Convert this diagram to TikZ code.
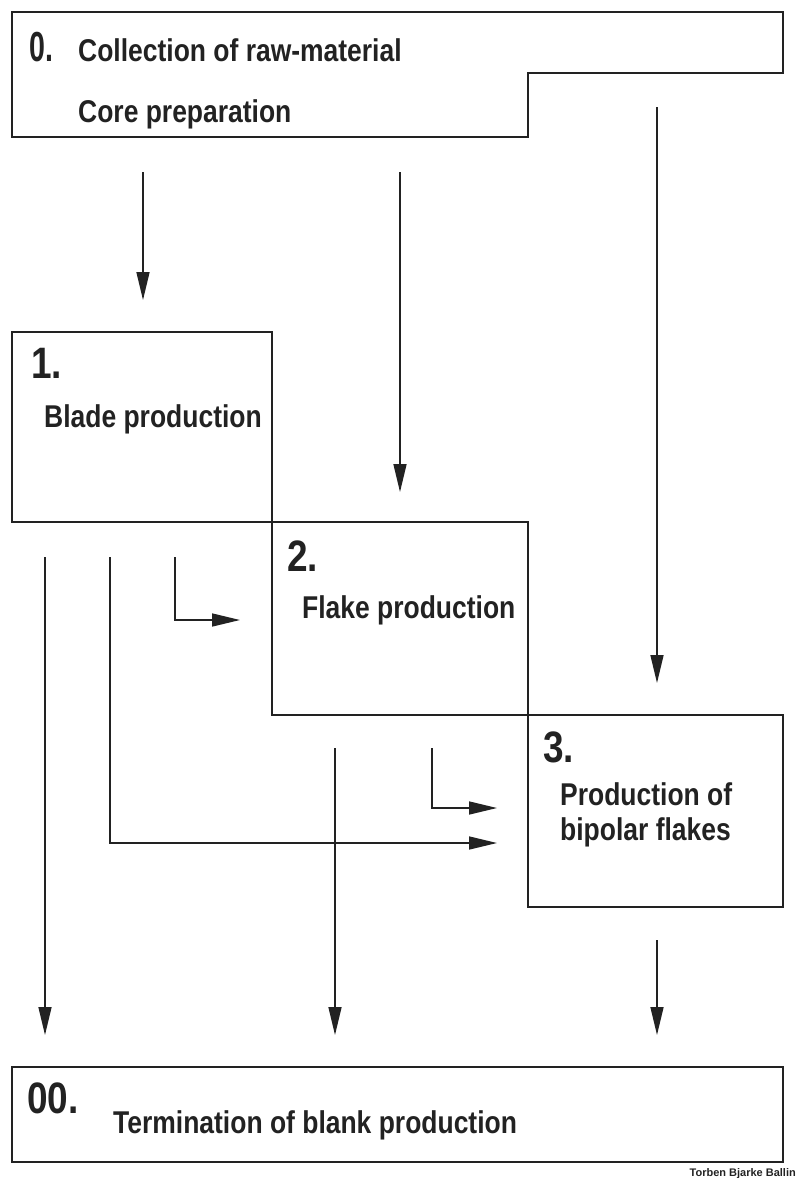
\documentclass[tikz,border=0pt]{standalone}
\usepackage{fontspec}
\setmainfont{Liberation Sans}[FakeStretch=0.84]
\newfontfamily\creditfont{Liberation Sans}
\newfontfamily\zerofont{Liberation Sans}[FakeStretch=0.68]
\usetikzlibrary{arrows.meta}
\definecolor{ink}{HTML}{222222}
\begin{document}
\begin{tikzpicture}[x=1pt,y=-1pt,
  box/.style={draw=ink, line width=1.7pt, line join=miter},
  conn/.style={draw=ink, line width=1.6pt, -{Triangle[length=28pt,width=13pt]}},
  lbl/.style={font=\bfseries\fontsize{31.5}{35}\selectfont, text=ink, anchor=base west, inner sep=0pt},
  num/.style={font=\bfseries\fontsize{44}{46}\selectfont, text=ink, anchor=base west, inner sep=0pt},
  zeronum/.style={font=\zerofont\bfseries\fontsize{42}{44}\selectfont, text=ink, anchor=base west, inner sep=0pt},
  credit/.style={font=\creditfont\bfseries\fontsize{11}{12}\selectfont, text=ink, anchor=base east, inner sep=0pt}]
\useasboundingbox (0,0) rectangle (798,1178);
% boxes
\draw[box] (12,12) -- (783,12) -- (783,73) -- (528,73) -- (528,137) -- (12,137) -- cycle;
\draw[box] (12,332) rectangle (272,522);
\draw[box] (272,522) rectangle (528,715);
\draw[box] (528,715) rectangle (783,907);
\draw[box] (12,1067) rectangle (783,1162);
% texts
\node[zeronum] (n0) at (29,61) {0.};
\node[lbl] (t0a) at (78,61) {Collection of raw-material};
\node[lbl] (t0b) at (78,122) {Core preparation};
\node[num] (n1) at (31,378) {1.};
\node[lbl] (t1) at (44,427) {Blade production};
\node[num] (n2) at (287,571) {2.};
\node[lbl] (t2) at (302,618) {Flake production};
\node[num] (n3) at (543,762) {3.};
\node[lbl] (t3a) at (560,805) {Production of};
\node[lbl] (t3b) at (560,840) {bipolar flakes};
\node[num] (n00) at (27,1113) {00.};
\node[lbl] (t00) at (113,1133) {Termination of blank production};
\node[credit] (cr) at (796,1176) {Torben Bjarke Ballin};
% connector end points
\coordinate (a1s) at (143,172); \coordinate (a1e) at (143,300);
\coordinate (a2s) at (400,172); \coordinate (a2e) at (400,492);
\coordinate (a3s) at (657,107); \coordinate (a3e) at (657,683);
\coordinate (b1s) at (45,557);  \coordinate (b1e) at (45,1035);
\coordinate (b2s) at (110,557); \coordinate (b2e) at (497,843);
\coordinate (b3s) at (175,557); \coordinate (b3e) at (240,620);
\coordinate (c1s) at (335,748); \coordinate (c1e) at (335,1035);
\coordinate (c2s) at (432,748); \coordinate (c2e) at (497,808);
\coordinate (d1s) at (657,940); \coordinate (d1e) at (657,1035);
% connectors
\draw[conn] (a1s) -- (a1e);
\draw[conn] (a2s) -- (a2e);
\draw[conn] (a3s) -- (a3e);
\draw[conn] (b1s) -- (b1e);
\draw[conn] (b2s) |- (b2e);
\draw[conn] (b3s) |- (b3e);
\draw[conn] (c1s) -- (c1e);
\draw[conn] (c2s) |- (c2e);
\draw[conn] (d1s) -- (d1e);
\end{tikzpicture}
\end{document}
